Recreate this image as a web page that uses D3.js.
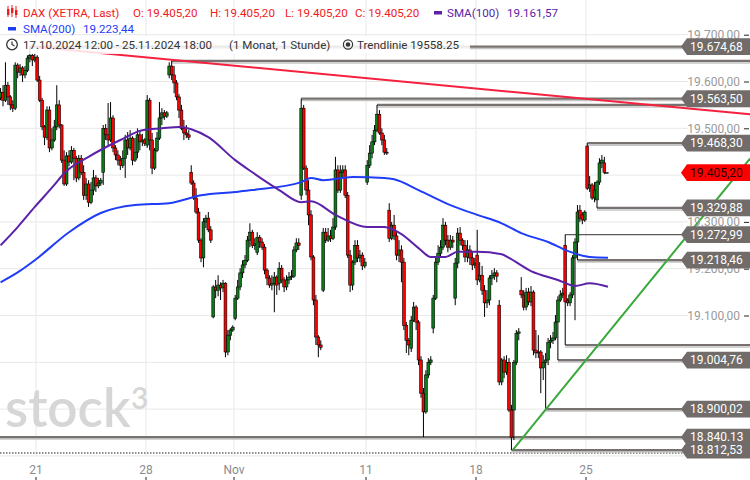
<!DOCTYPE html>
<html><head><meta charset="utf-8">
<script src="https://cdn.jsdelivr.net/npm/d3@7"></script>
<style>body{margin:0;background:#fff}svg{display:block}text{font-family:Roboto,"Liberation Sans",Arial,sans-serif}</style>
</head><body><svg id="c" width="750" height="480"></svg>
<script>
// ---------------- DATA ----------------
const days = ["2024-10-17","2024-10-18","2024-10-21","2024-10-22","2024-10-23","2024-10-24","2024-10-25",
"2024-10-28","2024-10-29","2024-10-30","2024-10-31","2024-11-01","2024-11-04","2024-11-05","2024-11-06",
"2024-11-07","2024-11-08","2024-11-11","2024-11-12","2024-11-13","2024-11-14","2024-11-15","2024-11-18",
"2024-11-19","2024-11-20","2024-11-21","2024-11-22","2024-11-25"];
const hoursPerDay = 9;      // 09:00 .. 17:00 hourly candles
const firstDayStartHour = 3; // first candle 12:00

// [open, high, low, close] per hourly candle, grouped by day
const ohlc = [
[[19565,19586,19560,19577],[19577,19592,19547,19560],[19560,19641,19556,19592],[19592,19599,19550,19567],[19567,19571,19539,19550],[19550,19560,19535,19543]],
[[19543,19641,19539,19635],[19635,19639,19607,19620],[19620,19637,19612,19629],[19629,19633,19599,19614],[19614,19633,19607,19624],[19624,19656,19620,19650],[19650,19674.68,19641,19656],[19656,19659,19633,19646],[19646,19661,19641,19652]],
[[19652,19656,19599,19603],[19603,19612,19556,19560],[19560,19565,19496,19503],[19503,19507,19464,19481],[19481,19547,19475,19539],[19539,19547,19449,19458],[19458,19500,19453,19475],[19475,19518,19471,19503],[19503,19592,19496,19550]],
[[19550,19560,19500,19507],[19507,19509,19426,19432],[19432,19453,19377,19381],[19381,19449,19377,19441],[19441,19453,19419,19428],[19428,19462,19424,19453],[19453,19458,19389,19436],[19436,19441,19385,19394],[19394,19443,19389,19436]],
[[19436,19443,19400,19406],[19406,19421,19347,19357],[19357,19394,19347,19381],[19381,19389,19332,19342],[19342,19385,19338,19368],[19368,19411,19357,19394],[19394,19400,19364,19377],[19377,19394,19372,19383],[19383,19394,19377,19389]],
[[19406,19507,19379,19500],[19500,19509,19475,19486],[19486,19554,19464,19475],[19475,19556,19471,19522],[19522,19528,19449,19458],[19458,19464,19432,19443],[19443,19453,19421,19432],[19432,19441,19411,19421],[19421,19453,19415,19436]],
[[19436,19486,19394,19475],[19475,19492,19443,19458],[19458,19496,19453,19479],[19479,19483,19421,19432],[19432,19479,19428,19449],[19449,19500,19436,19486],[19486,19496,19453,19471],[19471,19488,19462,19475],[19475,19479,19462,19468]],
[[19464,19571,19458,19560],[19560,19565,19453,19475],[19475,19490,19402,19415],[19415,19458,19411,19453],[19453,19492,19449,19479],[19479,19556,19475,19522],[19522,19543,19507,19533],[19533,19539,19518,19526],[19526,19537,19522,19533]],
[[19614,19641,19607,19633],[19633,19644,19603,19614],[19614,19633,19575,19597],[19597,19603,19560,19567],[19567,19573,19522,19539],[19539,19550,19496,19500],[19500,19518,19475,19490],[19490,19507,19479,19486],[19486,19496,19475,19481]],
[[19406,19421,19379,19383],[19383,19389,19347,19351],[19351,19372,19317,19321],[19321,19330,19255,19261],[19261,19265,19214,19223],[19223,19308,19203,19300],[19300,19315,19287,19308],[19308,19321,19278,19283],[19283,19291,19255,19261]],
[[19097,19165,19094,19161],[19161,19176,19137,19154],[19154,19186,19141,19165],[19165,19171,19133,19159],[19159,19176,19150,19169],[19169,19171,19011,19022],[19022,19069,19015,19058],[19058,19073,19047,19069],[19069,19079,19065,19075]],
[[19094,19144,19090,19137],[19137,19176,19133,19161],[19161,19201,19154,19191],[19191,19218,19180,19208],[19208,19229,19201,19218],[19218,19270,19214,19261],[19261,19297,19246,19278],[19278,19283,19244,19250],[19250,19265,19240,19253]],
[[19235,19278,19229,19267],[19267,19272,19244,19257],[19257,19265,19240,19246],[19246,19253,19188,19197],[19197,19201,19165,19180],[19180,19186,19159,19165],[19165,19186,19154,19169],[19169,19193,19107,19182],[19182,19186,19144,19165]],
[[19169,19214,19154,19201],[19201,19208,19169,19176],[19176,19182,19150,19161],[19161,19186,19154,19176],[19176,19193,19167,19182],[19182,19197,19176,19184],[19184,19248,19180,19240],[19240,19265,19235,19255],[19255,19265,19240,19250]],
[[19357,19563.5,19347,19543],[19543,19550,19411,19415],[19415,19421,19357,19368],[19368,19389,19293,19315],[19315,19325,19218,19225],[19225,19229,19122,19133],[19133,19144,19037,19054],[19054,19058,19011,19037],[19037,19047,19026,19032]],
[[19154,19287,19150,19278],[19278,19287,19255,19261],[19261,19287,19257,19270],[19270,19283,19257,19265],[19265,19308,19261,19289],[19289,19439,19283,19411],[19411,19421,19362,19368],[19368,19421,19362,19406],[19406,19421,19394,19411]],
[[19411,19421,19351,19357],[19357,19364,19223,19229],[19229,19240,19150,19165],[19165,19218,19154,19214],[19214,19261,19208,19250],[19250,19261,19214,19223],[19223,19240,19214,19229],[19229,19235,19197,19206],[19206,19223,19201,19214]],
[[19385,19432,19379,19421],[19421,19464,19415,19447],[19447,19486,19436,19471],[19471,19507,19464,19496],[19496,19550,19492,19530],[19530,19539,19486,19490],[19490,19500,19464,19475],[19475,19486,19443,19449],[19449,19458,19443,19447]],
[[19325,19340,19257,19265],[19265,19300,19261,19293],[19293,19315,19261,19270],[19270,19278,19218,19229],[19229,19261,19214,19240],[19240,19250,19171,19214],[19214,19223,19069,19079],[19079,19086,19020,19047],[19047,19052,19015,19037]],
[[19030,19099,19022,19090],[19090,19129,19086,19118],[19118,19122,19069,19086],[19086,19090,18994,19005],[19005,19013,18924,18934],[18934,18945,18840.13,18894],[18894,18983,18890,18973],[18973,19009,18966,19000],[19000,19013,18994,19005]],
[[19073,19144,19062,19137],[19137,19223,19133,19214],[19214,19250,19208,19233],[19233,19261,19223,19246],[19246,19308,19240,19293],[19293,19300,19250,19261],[19261,19272,19235,19246],[19246,19272,19240,19261],[19261,19270,19244,19257]],
[[19137,19223,19122,19212],[19212,19287,19201,19276],[19276,19289,19250,19261],[19261,19265,19240,19250],[19250,19261,19214,19225],[19225,19261,19214,19240],[19240,19250,19208,19223],[19223,19235,19197,19208],[19208,19223,19201,19212]],
[[19229,19283,19165,19176],[19176,19214,19171,19186],[19186,19206,19144,19154],[19154,19165,19097,19127],[19127,19154,19116,19133],[19133,19186,19122,19180],[19180,19197,19165,19186],[19186,19201,19176,19191],[19191,19197,19171,19184]],
[[19122,19133,18951,18958],[18958,19009,18951,19005],[19005,19013,18966,18979],[18979,19015,18973,19000],[19000,19009,18894,18898],[18898,18909,18812.53,18840],[18898,19005,18834,19000],[19000,19069,18994,19062],[19062,19073,19047,19065]],
[[19154,19182,19137,19144],[19144,19154,19111,19118],[19118,19159,19111,19150],[19150,19159,19122,19129],[19129,19163,19120,19150],[19150,19154,19015,19026],[19026,19069,19009,19020],[19020,19058,19009,19022],[19022,19026,18934,18988]],
[[18988,19015,18962,19000],[19000,19020,18900.02,19005],[19005,19052,18994,19043],[19043,19058,19030,19047],[19047,19065,19039,19052],[19052,19101,19047,19086],[19086,19141,19004.76,19133],[19133,19154,19129,19144],[19144,19159,19137,19148]],
[[19250,19272.99,19037,19129],[19133,19137,19120,19127],[19127,19150,19120,19144],[19144,19229,19137,19223],[19223,19265,19090,19257],[19257,19336,19218.46,19321],[19325,19336,19300,19308],[19315,19321,19295,19304],[19304,19325,19300,19321]],
[[19462,19468.3,19368,19372],[19372,19398,19364,19379],[19379,19383,19347,19351],[19351,19385,19342,19368],[19347,19389,19329.88,19385],[19385,19436,19379,19426],[19426,19443,19415,19432],[19426,19439,19402,19406],[19405.2,19405.2,19405.2,19405.2]]
];

// moving averages: [hour slot, value]
const sma200 = [[3,19171],[10,19192],[17,19218],[31,19278],[44,19319],[58,19336],[72,19340],[85,19357],[99,19364],[106,19368],[126,19385],[130,19394],[135,19389],[147,19396],[160,19394],[164,19391],[174,19368],[187,19336],[198,19315],[208,19297],[216,19276],[227,19257],[235,19238],[244,19225],[251.5,19223.44]];
const sma100 = [[3,19250],[10,19289],[17,19332],[25,19379],[29,19404],[39,19439],[52,19475],[61,19496],[69,19500],[76,19503],[81,19498],[88,19481],[99,19432],[106,19406],[117,19368],[126,19342],[130,19344],[140,19315],[153,19289],[160,19289],[167,19274],[174,19244],[179,19225],[185,19225],[190,19236],[198,19236],[208,19231],[211,19223],[220,19195],[231,19176],[238,19163],[244,19169],[251.5,19161.57]];

// trend lines: [slot, value] anchors
const trendRed = [[15.5,19674.68],[252,19558.25]];
const trendGreen = [[212.5,18812.53],[310,19438]];

// horizontal levels
const levelValues = [19674.68,19644,19563.50,19550,19468.30,19329.88,19272.99,19218.46,19037,19004.76,18900.02,18840.13,18812.53];
const levelDay    = [1,8,14,17,27,27,26,26,26,25,25,0,23];
const levelHour   = [6,1,0,4,0,4,0,5,0,6,1,0,5];
const levelLabels = ["19.674,68","","19.563,50","","19.468,30","19.329,88","19.272,99","19.218,46","","19.004,76","18.900,02","18.840.13","18.812,53"];
const levelThin   = [false,false,false,false,false,false,true,false,false,false,false,false,false];

const priceTicks = [18800,18900,19000,19100,19200,19300,19400,19500,19600,19700];
const dayTickDates = ["2024-10-21","2024-10-28","2024-11-01","2024-11-11","2024-11-18","2024-11-25"];
const dayTickLabels = ["21","28","Nov","11","18","25"];

const headerRange = "17.10.2024 12:00 - 25.11.2024 18:00";
const headerPeriod = "(1 Monat, 1 Stunde)";

// ---------------- CHART ----------------
const fmt = d3.formatLocale({decimal:",",thousands:".",grouping:[3],currency:["",""]}).format(",.2f");
const svg = d3.select("#c");
const x = d3.scaleLinear().domain([0, days.length*hoursPerDay]).range([-8, 608]);
const y = d3.scaleLinear().domain([18800, 19700]).range([455.9, 34.7]);
const plotRight = 688, plotBottom = 455;

const candles = [];
ohlc.forEach((day,d)=>day.forEach((v,k)=>{
  const h = (d===0?firstDayStartHour:0)+k;
  candles.push({slot:d*hoursPerDay+h, o:v[0], hi:v[1], lo:v[2], c:v[3]});
}));
const last = candles[candles.length-1];

// grid
const grid = svg.append("g");
grid.selectAll("line.h").data(priceTicks).join("line")
  .attr("x1",0).attr("x2",plotRight).attr("y1",d=>y(d)).attr("y2",d=>y(d))
  .attr("stroke","#e8e8e8").attr("stroke-width",1);
const tickSlots = dayTickDates.map(d=>days.indexOf(d)*hoursPerDay);
grid.selectAll("line.v").data(tickSlots).join("line")
  .attr("x1",d=>x(d)).attr("x2",d=>x(d)).attr("y1",0).attr("y2",plotBottom)
  .attr("stroke","#e8e8e8").attr("stroke-width",1);

// watermark
svg.append("text").attr("x",5).attr("y",427).attr("fill","#d6d6d6")
  .style("font-family","Lato, 'Open Sans', sans-serif").style("font-size","53px").style("font-weight","600").text("stock");
svg.append("text").attr("x",131).attr("y",409).attr("fill","#d6d6d6")
  .style("font-family","Lato, 'Open Sans', sans-serif").style("font-size","30px").style("font-weight","600").text("3");

// bottom dotted line
svg.append("line").attr("x1",0).attr("x2",686).attr("y1",453).attr("y2",453)
  .attr("stroke","#8f8f8f").attr("stroke-width",2).attr("stroke-dasharray","1.5,1.5");

// level lines
const levels = levelValues.map((v,i)=>({v, slot:levelDay[i]*hoursPerDay+levelHour[i], label:levelLabels[i], thin:levelThin[i]}));
const lv = svg.append("g");
levels.forEach(L=>{
  const x0 = Math.max(0, x(L.slot+0.5)), yy = y(L.v);
  if(!L.thin){
    lv.append("line").attr("x1",x0).attr("x2",750).attr("y1",yy+2).attr("y2",yy+2).attr("stroke","#c4c4c4").attr("stroke-width",1.5);
    lv.append("line").attr("x1",x0).attr("x2",750).attr("y1",yy).attr("y2",yy).attr("stroke","#77726f").attr("stroke-width",2.2);
  } else {
    lv.append("line").attr("x1",x0).attr("x2",750).attr("y1",yy).attr("y2",yy).attr("stroke","#5e5a58").attr("stroke-width",1.2);
  }
});

// candles
const cg = svg.append("g");
cg.selectAll("line").data(candles).join("line")
  .attr("x1",d=>x(d.slot+0.5)).attr("x2",d=>x(d.slot+0.5))
  .attr("y1",d=>y(d.hi)).attr("y2",d=>y(d.lo)).attr("stroke","#000").attr("stroke-width",1);
cg.selectAll("rect").data(candles).join("rect")
  .attr("x",d=>x(d.slot+0.5)-1.4).attr("width",2.8)
  .attr("y",d=>y(Math.max(d.o,d.c))).attr("height",d=>Math.max(0.6,Math.abs(y(d.o)-y(d.c))))
  .attr("fill",d=>d.c>=d.o?"#0b7d18":"#ff0000").attr("stroke","#000").attr("stroke-width",0.6);

// SMAs
const line = d3.line().x(d=>x(d[0]+0.5)).y(d=>y(d[1])).curve(d3.curveMonotoneX);
svg.append("path").attr("d",line(sma200)).attr("fill","none").attr("stroke","#1f3df7").attr("stroke-width",2);
svg.append("path").attr("d",line(sma100)).attr("fill","none").attr("stroke","#5b22a8").attr("stroke-width",2);

// trend lines (extended to the right edge)
function extend(a){const xEnd=x.invert(750);const s=(a[1][1]-a[0][1])/(a[1][0]-a[0][0]);return [[a[0][0],a[0][1]],[xEnd-0.5,a[0][1]+s*(xEnd-0.5-a[0][0])]];}
const tl = d3.line().x(d=>x(d[0]+0.5)).y(d=>y(d[1]));
svg.append("path").attr("d",tl(extend(trendRed))).attr("stroke","#f5213f").attr("stroke-width",2).attr("fill","none");
svg.append("path").attr("d",tl(extend(trendGreen))).attr("stroke","#3aa83a").attr("stroke-width",2).attr("fill","none");

// right axis (labels fully hidden behind a value box are not drawn)
const boxValues = levels.filter(L=>L.label).map(L=>L.v).concat([last.c]);
const visibleTicks = priceTicks.filter(t=>boxValues.every(b=>Math.abs(y(b)-y(t))>8));
const ax = svg.append("g").attr("transform","translate(749,0)")
  .call(d3.axisLeft(y).tickValues(priceTicks).tickFormat(d=>visibleTicks.includes(d)?fmt(d):"").tickSize(5).tickPadding(4));
ax.select(".domain").remove();
ax.selectAll("line").attr("stroke","#222");
ax.selectAll("text").attr("fill","#9a9a9a").style("font-size","12px").style("font-family","Roboto, sans-serif");

// label boxes
function box(v,txt,fill,tc){
  const yy=y(v);
  const g=svg.append("g");
  g.append("path").attr("d",`M681,${yy} L687,${yy-8.4} H750 V${yy+8.4} H687 Z`).attr("fill",fill);
  g.append("text").attr("x",690).attr("y",yy+4.3).attr("fill",tc).style("font-size","12px").text(txt);
}
levels.filter(L=>L.label).forEach(L=>{ if(L.v>19400) box(L.v,L.label,"#716c69","#fff"); });
box(last.c, fmt(last.c), "#ff0000", "#2a0000");
levels.filter(L=>L.label).forEach(L=>{ if(L.v<19400) box(L.v,L.label,"#716c69","#fff"); });

// x axis labels
const xa = svg.append("g");
xa.selectAll("text").data(tickSlots).join("text")
  .attr("x",d=>x(d)).attr("y",474).attr("text-anchor","middle").attr("fill","#8c8c8c")
  .style("font-size","12px").text((d,i)=>dayTickLabels[i]);
xa.selectAll("line").data(tickSlots).join("line")
  .attr("x1",d=>x(d)).attr("x2",d=>x(d)).attr("y1",477).attr("y2",481).attr("stroke","#222");

// header
const hd = svg.append("g");
hd.append("rect").attr("x",0).attr("y",37).attr("width",470).attr("height",17).attr("fill","#fff").attr("opacity",0.85);
const red="#f21a1a", blue="#1f3df7", purple="#5b22a8", dark="#333";
[[7,9,15,6,17],[11,8,13,5,17],[15,10,15,6,18]].forEach(r=>{
  hd.append("line").attr("x1",r[0]+1).attr("x2",r[0]+1).attr("y1",r[3]).attr("y2",r[4]).attr("stroke",red).attr("stroke-width",1);
  hd.append("rect").attr("x",r[0]).attr("y",r[1]).attr("width",2.4).attr("height",r[2]-r[1]).attr("fill",red);
});
function ht(xp,yp,t,c){hd.append("text").attr("x",xp).attr("y",yp).attr("fill",c).style("font-size","11.6px").text(t);}
ht(23,17,"DAX (XETRA, Last)",red);
ht(133,17,"O: "+fmt(last.o),red);
ht(210,17,"H: "+fmt(last.hi),red);
ht(285,17,"L: "+fmt(last.lo),red);
ht(355,17,"C: "+fmt(last.c),red);
hd.append("rect").attr("x",434).attr("y",11).attr("width",8).attr("height",3.5).attr("fill",purple);
ht(447,17,"SMA(100)",purple);
ht(507,17,fmt(sma100[sma100.length-1][1]),purple);
hd.append("rect").attr("x",8).attr("y",27).attr("width",8).attr("height",3.5).attr("fill",blue);
ht(23,33,"SMA(200)",blue);
ht(83,33,fmt(sma200[sma200.length-1][1]),blue);
hd.append("circle").attr("cx",12).attr("cy",44.5).attr("r",5.3).attr("fill","none").attr("stroke",dark).attr("stroke-width",1.3);
hd.append("path").attr("d","M12,41.5 V44.5 L14.5,46").attr("fill","none").attr("stroke",dark).attr("stroke-width",1.2);
ht(23,49,headerRange,dark);
ht(229,49,headerPeriod,dark);
hd.append("circle").attr("cx",348).attr("cy",44.5).attr("r",4.6).attr("fill","none").attr("stroke",dark).attr("stroke-width",1.2);
hd.append("circle").attr("cx",348).attr("cy",44.5).attr("r",2.3).attr("fill",dark);
ht(357,49,"Trendlinie  "+trendRed[1][1].toFixed(2),dark);
</script></body></html>
